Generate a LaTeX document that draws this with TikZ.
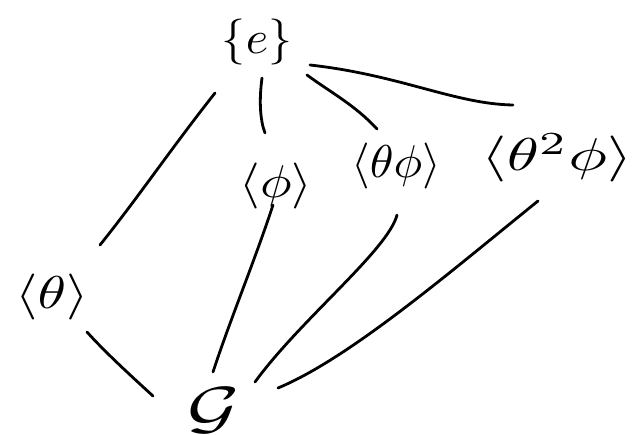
\documentclass[tikz,border=0pt]{standalone}
\newcommand{\biglab}[3]{\scalebox{#1}[#2]{#3}}
\begin{document}
\begin{tikzpicture}[x=1pt,y=-1pt,
  lab/.style={inner sep=0pt, font=\normalsize},
  edge/.style={line width=2.8pt, line cap=round, line join=round}]
\useasboundingbox (0,0) rectangle (636,434);
% nodes
\node[lab] (e) at (257,42) {\biglab{4.8}{4.6}{$\{e\}$}};
\node[lab] (th) at (52,297) {\biglab{5.75}{4.6}{$\langle\theta\rangle$}};
\node[lab] (ph) at (276,186) {\biglab{5.3}{4.6}{$\langle\phi\rangle$}};
\node[lab] (thph) at (396,166) {\biglab{4.8}{4.6}{$\langle\theta\phi\rangle$}};
\node[lab] (tthph) at (557,158) {\biglab{6.5}{4.6}{$\langle\theta^{2}\phi\rangle$}};
\node[lab] (G) at (214,410) {\biglab{8}{5.8}{$\mathcal{G}$}};
% connector ends
\coordinate (e-th) at (215,93);   \coordinate (th-e) at (100,245);
\coordinate (e-ph) at (262,78);   \coordinate (ph-e) at (265,133);
\coordinate (e-thph) at (307,75); \coordinate (thph-e) at (377,129);
\coordinate (e-tthph) at (310,65);\coordinate (tthph-e) at (513,105);
\coordinate (th-G) at (87,332);   \coordinate (G-th) at (153,396);
\coordinate (ph-G) at (273,205);  \coordinate (G-ph) at (213,372);
\coordinate (thph-G) at (397,215);\coordinate (G-thph) at (255,382);
\coordinate (tthph-G) at (538,201);\coordinate (G-tthph) at (278,388);
% connectors
\draw[edge] (e-th) .. controls (170,150) and (140,195) .. (th-e);
\draw[edge] (e-ph) .. controls (259,100) and (260,120) .. (ph-e);
\draw[edge] (e-thph) .. controls (330,92) and (355,105) .. (thph-e);
\draw[edge] (e-tthph) .. controls (400,75) and (455,104) .. (tthph-e);
\draw[edge] (th-G) .. controls (105,352) and (130,375) .. (G-th);
\draw[edge] (ph-G) .. controls (255,260) and (230,320) .. (G-ph);
\draw[edge] (thph-G) .. controls (388,250) and (300,320) .. (G-thph);
\draw[edge] (tthph-G) .. controls (450,272) and (350,358) .. (G-tthph);
\end{tikzpicture}
\end{document}
